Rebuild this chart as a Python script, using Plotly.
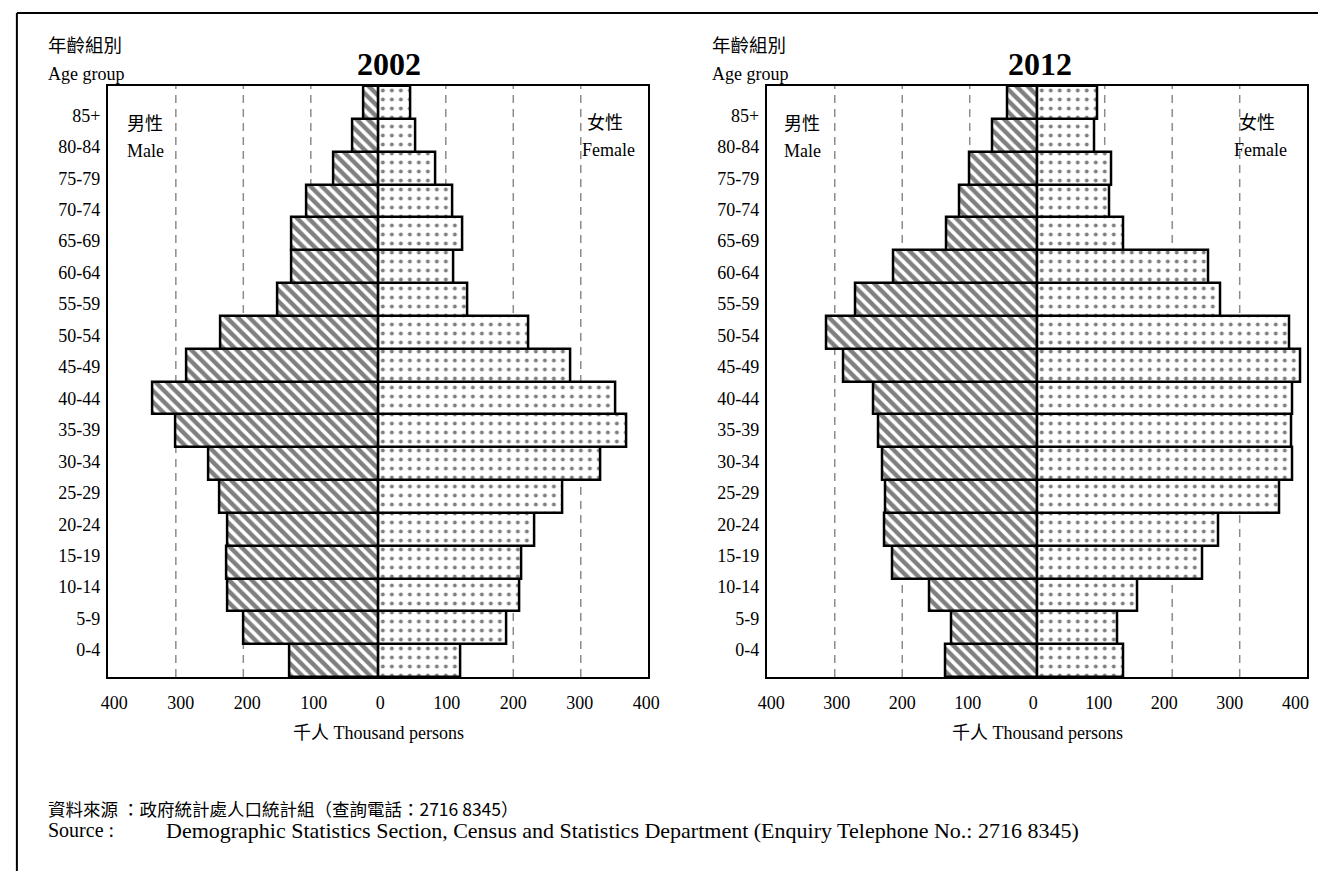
import plotly.graph_objects as go

AGE_GROUPS = ["0-4", "5-9", "10-14", "15-19", "20-24", "25-29", "30-34", "35-39",
              "40-44", "45-49", "50-54", "55-59", "60-64", "65-69", "70-74",
              "75-79", "80-84", "85+"]

# thousand persons
MALE_2002 = [132, 200, 223, 225, 224, 236, 252, 301, 335, 284, 234, 150, 129, 129, 106, 67, 38, 22]
FEMALE_2002 = [121, 189, 209, 212, 231, 273, 329, 368, 351, 285, 223, 132, 111, 124, 109, 84, 55, 47]
MALE_2012 = [137, 127, 160, 215, 227, 225, 230, 236, 243, 287, 313, 269, 214, 135, 115, 100, 67, 45]
FEMALE_2012 = [127, 119, 148, 244, 268, 358, 378, 376, 378, 390, 374, 271, 253, 128, 106, 109, 84, 89]

YEARS = ["2002", "2012"]
X_TICKS = [-400, -300, -200, -100, 0, 100, 200, 300, 400]
GRID_VALS = [-300, -200, -100, 100, 200, 300]

W, H = 1330, 871
FONT = "Liberation Serif, 'Noto Sans CJK TC', serif"
CJK = "'Noto Sans CJK TC', Liberation Serif, serif"


def px(x):
    return x / W


def py(y):
    return 1 - y / H


fig = go.Figure()

idx = list(range(len(AGE_GROUPS)))
panels = [
    (MALE_2002, FEMALE_2002, "x", "y", "y3", "x3"),
    (MALE_2012, FEMALE_2012, "x2", "y2", "y4", "x4"),
]

for male, female, xa, ya, ylab, xlab in panels:
    fig.add_trace(go.Bar(
        y=idx, x=[-v for v in male], orientation="h", xaxis=xa, yaxis=ya,
        marker=dict(color="white",
                    pattern=dict(shape="\\", size=8, solidity=0.55, fgcolor="black", bgcolor="white"),
                    line=dict(color="black", width=2.5)),
        showlegend=False, hoverinfo="skip"))
    fig.add_trace(go.Bar(
        y=idx, x=female, orientation="h", xaxis=xa, yaxis=ya,
        marker=dict(color="white",
                    pattern=dict(shape=".", size=9, solidity=0.15, fgcolor="black", bgcolor="white"),
                    line=dict(color="black", width=2.5)),
        showlegend=False, hoverinfo="skip"))
    # invisible helper traces carrying the label axes
    fig.add_trace(go.Scatter(
        y=idx, x=[0] * len(idx), xaxis=xa, yaxis=ylab, mode="markers",
        marker=dict(opacity=0), showlegend=False, hoverinfo="skip"))
    fig.add_trace(go.Scatter(
        x=X_TICKS, y=[0] * len(X_TICKS), xaxis=xlab, yaxis=ya, mode="markers",
        marker=dict(opacity=0), showlegend=False, hoverinfo="skip"))

ydom = [py(677), py(86)]
dom1 = [px(100), px(649)]
dom2 = [px(770), px(1319)]
xaxis_common = dict(
    range=[-400, 400], showticklabels=False,
    showgrid=False, zeroline=False, showline=True, linecolor="black", linewidth=2,
    mirror=True, ticks="", fixedrange=True)
xlab_common = dict(
    tickvals=X_TICKS, ticktext=[str(abs(v)) for v in X_TICKS],
    showgrid=False, zeroline=False, showline=False, ticks="", ticklabelstandoff=13,
    tickfont=dict(family=FONT, size=18, color="black"), fixedrange=True, side="bottom")
yaxis_common = dict(range=[-0.5, 17.5], showticklabels=False, showgrid=False,
                    zeroline=False, showline=True, linecolor="black", linewidth=2,
                    mirror=True, ticks="", domain=ydom, fixedrange=True)
# label axes: labels sit slightly inside the bar scale (as in original)
lab_range = [-(677 - 650) / 31.45, (650 - 86) / 31.45]
ylab_common = dict(range=lab_range, tickvals=idx, ticktext=AGE_GROUPS, showgrid=False,
                   zeroline=False, showline=False, ticks="", ticklabelstandoff=7,
                   tickfont=dict(family=FONT, size=18, color="black"), fixedrange=True)

fig.update_layout(
    width=W, height=H, margin=dict(l=0, r=0, t=0, b=0),
    paper_bgcolor="white", plot_bgcolor="white",
    barmode="relative", bargap=0,
    xaxis=dict(domain=dom1, anchor="y", **xaxis_common),
    xaxis2=dict(domain=dom2, anchor="y2", **xaxis_common),
    xaxis3=dict(domain=dom1, anchor="y", overlaying="x", range=[-408.9, 402.9], **xlab_common),
    xaxis4=dict(domain=dom2, anchor="y2", overlaying="x2", range=[-406.0, 418.0], **xlab_common),
    yaxis=dict(anchor="x", **yaxis_common),
    yaxis2=dict(anchor="x2", **yaxis_common),
    yaxis3=dict(anchor="x", overlaying="y", side="left", domain=ydom, **ylab_common),
    yaxis4=dict(anchor="x2", overlaying="y2", side="left", domain=ydom, **ylab_common),
)

shapes = []
for xa in ("x", "x2"):
    for g in GRID_VALS:
        shapes.append(dict(type="line", xref=xa, yref="paper", x0=g, x1=g,
                           y0=ydom[0], y1=ydom[1], layer="below",
                           line=dict(color="#8c8c8c", width=1.5, dash="8px,6px")))
# outer frame lines
shapes.append(dict(type="line", xref="paper", yref="paper", x0=px(7), x1=1.0,
                   y0=py(13), y1=py(13), line=dict(color="black", width=2)))
shapes.append(dict(type="line", xref="paper", yref="paper", x0=px(7), x1=px(7),
                   y0=py(13), y1=0, line=dict(color="black", width=2)))
fig.update_layout(shapes=shapes)

ann = []


def text(x, y, s, size=18, xanchor="left", family=FONT, bold=False):
    ann.append(dict(x=px(x), y=py(y), xref="paper", yref="paper",
                    text=("<b>%s</b>" % s) if bold else s,
                    showarrow=False, xanchor=xanchor, yanchor="middle",
                    font=dict(family=family, size=size, color="black")))


for xa, year, yearx, labx, malex, femx in (
        ("x", "2002", 385, 37, 117, 580),
        ("x2", "2012", 1047, 712, 785, 1243)):
    text(labx, 44, "年齡組別", size=18.5, family=CJK)
    text(labx, 74, "Age group")
    text(yearx, 64, year, size=32, xanchor="center", bold=True)
    text(malex, 122, "男性", size=18, family=CJK)
    text(malex, 151, "Male")
    text(femx + 5, 121, "女性", size=18, family=CJK)
    text(femx, 150, "Female")
    ann.append(dict(x=0, y=py(733), xref=xa, yref="paper", text="千人 Thousand persons",
                    showarrow=False, xanchor="center", yanchor="middle",
                    font=dict(family=FONT, size=18, color="black")))

text(37, 808, "資料來源 ：政府統計處人口統計組（查詢電話：2716 8345）", size=17.5, family=CJK)
text(37, 830, "Source :", size=20)
text(157, 830, "Demographic Statistics Section, Census and Statistics Department (Enquiry Telephone No.: 2716 8345)", size=22)

fig.update_layout(annotations=ann)
fig.write_html("out.html", config={"displayModeBar": False},
               post_script="document.body.style.margin='0px';")
